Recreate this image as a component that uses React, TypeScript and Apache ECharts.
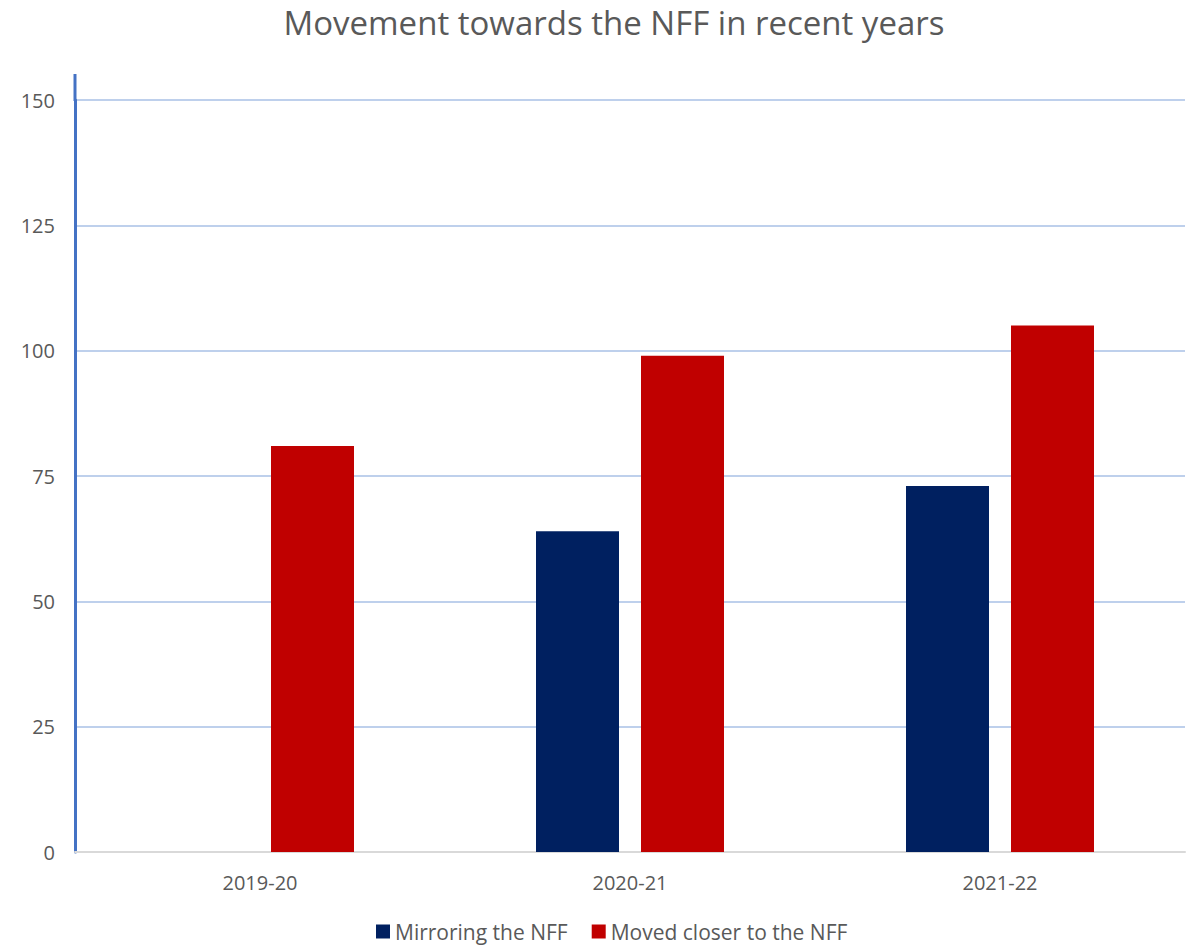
import React, { useEffect, useRef } from "react";
import * as echarts from "echarts";

const categories = ["2019-20", "2020-21", "2021-22"];
const mirroring = [0, 64, 73];
const movedCloser = [81, 99, 105];
const seriesNames = ["Mirroring the NFF", "Moved closer to the NFF"];
const titleText = "Movement towards the NFF in recent years";

export default function App() {
  const ref = useRef<HTMLDivElement>(null);
  useEffect(() => {
    if (!ref.current) return;
    const chart = echarts.init(ref.current, undefined, { renderer: "svg" });
    const font = "'Open Sans', 'Liberation Sans', sans-serif";
    chart.setOption({
      animation: false,
      backgroundColor: "#ffffff",
      textStyle: { fontFamily: font },
      title: {
        text: titleText,
        left: 609,
        textAlign: "center",
        top: 1,
        textStyle: { fontSize: 33, fontWeight: "normal", color: "#595959", fontFamily: font },
      },
      legend: {
        bottom: 0,
        left: 371,
        itemWidth: 14,
        itemHeight: 14,
        itemGap: 24,
        icon: "rect",
        textStyle: { fontSize: 21, color: "#595959", fontFamily: font },
        data: seriesNames,
      },
      grid: { left: 75, right: 7, top: 100, bottom: 95, containLabel: false },
      xAxis: {
        type: "category",
        data: categories,
        axisLine: { lineStyle: { color: "#D9D9D9", width: 2 } },
        axisTick: { show: false },
        axisLabel: { fontSize: 20, color: "#595959", margin: 20, fontFamily: font },
      },
      yAxis: {
        type: "value",
        min: 0,
        max: 150,
        interval: 25,
        axisLine: { show: true, lineStyle: { color: "#4472C4", width: 3 } },
        axisTick: { show: false },
        axisLabel: { fontSize: 20, color: "#595959", margin: 20, fontFamily: font },
        splitLine: { lineStyle: { color: "#A9C0E6", width: 1.5 } },
      },
      graphic: [
        {
          type: "line",
          shape: { x1: 75, y1: 74, x2: 75, y2: 101 },
          style: { stroke: "#4472C4", lineWidth: 3 },
          z: 10,
        },
      ],
      series: [
        {
          name: seriesNames[0],
          type: "bar",
          data: mirroring,
          barWidth: 83,
          barGap: "26.5%",
          itemStyle: { color: "#002060" },
        },
        {
          name: seriesNames[1],
          type: "bar",
          data: movedCloser,
          barWidth: 83,
          barGap: "26.5%",
          itemStyle: { color: "#C00000" },
        },
      ],
    });
    return () => chart.dispose();
  }, []);
  return (
    <div
      ref={ref}
      style={{ position: "absolute", left: 0, top: 0, width: 1192, height: 947 }}
    />
  );
}
